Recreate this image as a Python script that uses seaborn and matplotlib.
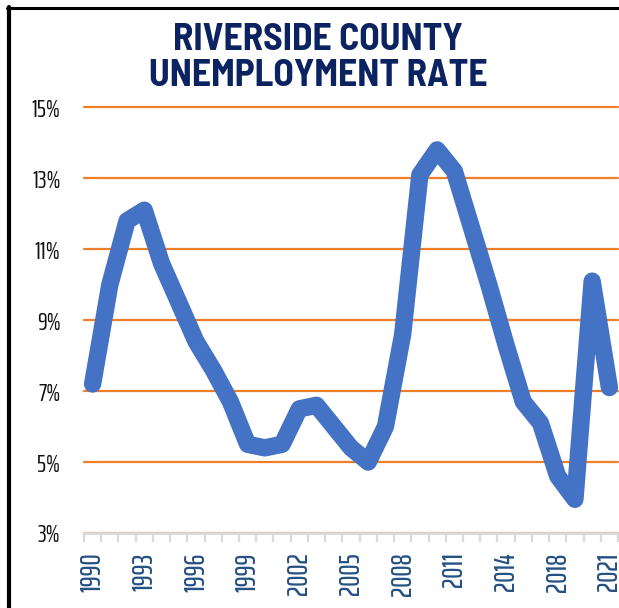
import matplotlib
matplotlib.use("Agg")
import matplotlib.pyplot as plt
from matplotlib.lines import Line2D
import seaborn as sns
import pandas as pd

# Annual unemployment rate, Riverside County (percent)
years = ["1990", "1991", "1992", "1993", "1994", "1995", "1996", "1997", "1998", "1999",
         "2000", "2001", "2002", "2003", "2004", "2005", "2006", "2007", "2008", "2009",
         "2010", "2011", "2012", "2013", "2014", "2016", "2017", "2018", "2019", "2020",
         "2021"]
rates = [7.2, 10.0, 11.8, 12.1, 10.6, 9.5, 8.4, 7.6, 6.7, 5.5,
         5.4, 5.5, 6.5, 6.6, 6.0, 5.4, 5.0, 6.0, 8.6, 13.1,
         13.8, 13.2, 11.6, 10.0, 8.3, 6.7, 6.1, 4.6, 3.95, 10.1,
         7.1]
y_ticks = [3, 5, 7, 9, 11, 13, 15]
title = "RIVERSIDE COUNTY\nUNEMPLOYMENT RATE"

df = pd.DataFrame({"year": years, "rate": rates})

sns.set_style("white")
plt.rcParams["font.family"] = ["Saira ExtraCondensed", "DejaVu Sans"]

W, H = 619, 608
fig = plt.figure(figsize=(W / 100, H / 100), dpi=100)
ax = fig.add_axes([84 / W, (H - 533) / H, 534 / W, (533 - 107.3) / H])

sns.lineplot(data=df, x="year", y="rate", ax=ax, sort=False, estimator=None,
             color="#4472C4", linewidth=12.5,
             solid_capstyle="round", solid_joinstyle="round", zorder=3)

n = len(years)
ax.set_xlim(-0.5, n - 0.5)
ax.set_ylim(y_ticks[0], y_ticks[-1])

# y axis: percent labels with orange gridlines
ax.set_yticks(y_ticks, labels=[f"{v}%" for v in y_ticks])
ax.tick_params(axis="y", length=0, pad=17, labelsize=18, labelcolor="#111111")
ax.yaxis.grid(True, color="#F07E26", linewidth=1.6)
ax.xaxis.grid(False)
ax.set_axisbelow(True)
for gl in ax.get_ygridlines():
    gl.set_clip_on(False)

# x axis: every third year labelled, boundary ticks in light grey
label_pos = list(range(0, n, 3))
ax.set_xticks(label_pos, labels=[years[i] for i in label_pos])
ax.set_xticks([i - 0.5 for i in range(n + 1)], minor=True)
ax.tick_params(axis="x", which="major", length=0, pad=14, labelsize=20,
               labelcolor="#245083", labelrotation=90)
for lbl in ax.get_xticklabels():
    lbl.set_fontweight("medium")
ax.tick_params(axis="x", which="minor", length=6.5, width=1.6, color="#D9D9D9",
               direction="out", bottom=True)

for side in ["top", "right", "left"]:
    ax.spines[side].set_visible(False)
ax.spines["bottom"].set_color("#D9D9D9")
ax.spines["bottom"].set_linewidth(2.0)
ax.spines["bottom"].set_zorder(2.6)
ax.set_xlabel("")
ax.set_ylabel("")

fig.text(318 / W, 1 - 23 / H, title, ha="center", va="top",
         fontsize=27, fontweight="bold", color="#0B2361",
         family=["Barlow Semi Condensed", "DejaVu Sans"], linespacing=1.07)

# chart frame, left and top edges
fig.add_artist(Line2D([9 / W, 9 / W], [0, 1 - 7 / H], color="black", linewidth=3.0,
                      transform=fig.transFigure))
fig.add_artist(Line2D([7 / W, 1], [1 - 8 / H, 1 - 8 / H], color="black", linewidth=2.2,
                      transform=fig.transFigure))

fig.savefig("out.png", dpi=100)
